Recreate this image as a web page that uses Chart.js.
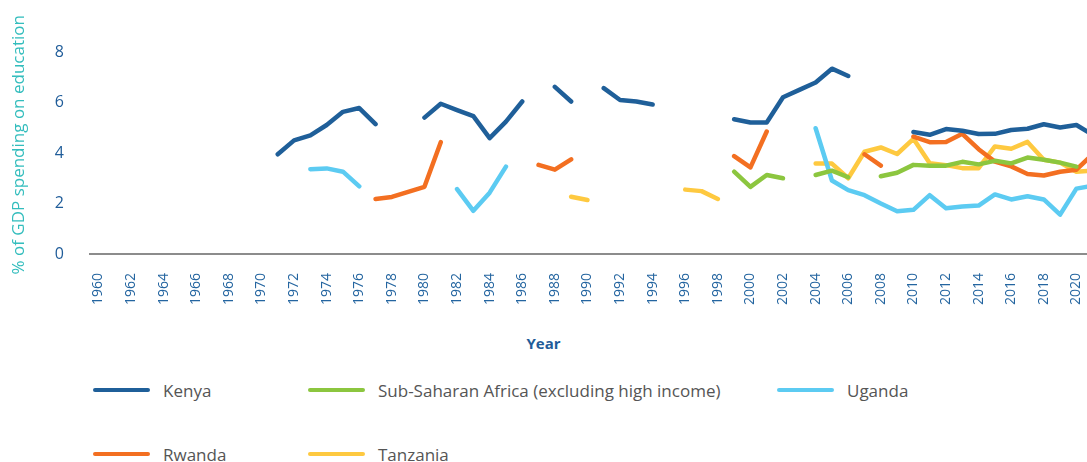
<!DOCTYPE html>
<html>
<head>
<meta charset="utf-8">
<script src="https://cdn.jsdelivr.net/npm/chart.js@4"></script>
<style>
  body { margin: 0; background: #fff; overflow: hidden; font-family: "Open Sans", sans-serif; }
  #wrap { position: relative; width: 1087px; height: 462px; }
  #chartBox { position: absolute; left: 0; top: 0; width: 1087px; height: 320px; }
  #xTitle { position: absolute; left: 0; width: 1087px; top: 333px; text-align: center;
            font-weight: 700; font-size: 15px; color: #1f5c99; }
  #legend { position: absolute; left: 93px; top: 378px; display: grid;
            grid-template-columns: 215px 469px auto; row-gap: 40px; }
  .item { display: flex; align-items: center; height: 24px; font-size: 17px; color: #555; }
  .swatch { width: 57px; height: 4px; border-radius: 2px; margin-right: 13px; }
</style>
</head>
<body>
<div id="wrap">
  <div id="chartBox"><canvas id="eduChart"></canvas></div>
  <div id="xTitle">Year</div>
  <div id="legend"></div>
</div>
<script>
  /************************************************
   *  DATA
   ************************************************/
  const years = [1960, 1961, 1962, 1963, 1964, 1965, 1966, 1967, 1968, 1969,
    1970, 1971, 1972, 1973, 1974, 1975, 1976, 1977, 1978, 1979,
    1980, 1981, 1982, 1983, 1984, 1985, 1986, 1987, 1988, 1989,
    1990, 1991, 1992, 1993, 1994, 1995, 1996, 1997, 1998, 1999,
    2000, 2001, 2002, 2003, 2004, 2005, 2006, 2007, 2008, 2009,
    2010, 2011, 2012, 2013, 2014, 2015, 2016, 2017, 2018, 2019,
    2020, 2021];

  const yearTicks = [1960, 1962, 1964, 1966, 1968, 1970, 1972, 1974, 1976, 1978,
    1980, 1982, 1984, 1986, 1988, 1990, 1992, 1994, 1996, 1998,
    2000, 2002, 2004, 2006, 2008, 2010, 2012, 2014, 2016, 2018, 2020];

  const valueTicks = [0, 2, 4, 6, 8];

  // one value per year, null where there is no data
  const kenya = [null, null, null, null, null, null, null, null, null, null,
    null, 3.95, 4.50, 4.70, 5.11, 5.63, 5.78, 5.14, null, null,
    5.40, 5.95, 5.70, 5.46, 4.59, 5.24, 6.04, null, 6.62, 6.04,
    null, 6.57, 6.10, 6.04, 5.92, null, null, null, null, 5.34,
    5.21, 5.21, 6.21, 6.50, 6.79, 7.34, 7.05, null, null, null,
    4.83, 4.72, 4.95, 4.88, 4.75, 4.76, 4.91, 4.96, 5.14, 5.01,
    5.11, 4.72];

  const subSaharan = [null, null, null, null, null, null, null, null, null, null,
    null, null, null, null, null, null, null, null, null, null,
    null, null, null, null, null, null, null, null, null, null,
    null, null, null, null, null, null, null, null, null, 3.26,
    2.66, 3.13, 3.00, null, 3.13, 3.30, 3.04, null, 3.08, 3.22,
    3.53, 3.50, 3.50, 3.65, 3.55, 3.69, 3.59, 3.82, 3.73, 3.62,
    3.46, null];

  const uganda = [null, null, null, null, null, null, null, null, null, null,
    null, null, null, 3.36, 3.39, 3.26, 2.68, null, null, null,
    null, null, 2.57, 1.71, 2.43, 3.46, null, null, null, null,
    null, null, null, null, null, null, null, null, null, null,
    null, null, null, null, 4.98, 2.91, 2.53, 2.33, 2.00, 1.69,
    1.75, 2.33, 1.81, 1.88, 1.92, 2.36, 2.16, 2.29, 2.16, 1.56,
    2.59, 2.70];

  const rwanda = [null, null, null, null, null, null, null, null, null, null,
    null, null, null, null, null, null, null, 2.18, 2.26, 2.46,
    2.66, 4.43, null, null, null, null, null, 3.53, 3.34, 3.75,
    null, null, null, null, null, null, null, null, null, 3.88,
    3.43, 4.85, null, null, null, null, null, 3.95, 3.50, null,
    4.65, 4.43, 4.44, 4.76, 4.15, 3.66, 3.47, 3.17, 3.11, 3.26,
    3.34, 3.95];

  const tanzania = [null, null, null, null, null, null, null, null, null, null,
    null, null, null, null, null, null, null, null, null, null,
    null, null, null, null, null, null, null, null, null, 2.27,
    2.14, null, null, null, null, null, 2.55, 2.49, 2.18, null,
    null, null, null, null, 3.58, 3.58, 3.00, 4.05, 4.22, 3.96,
    4.56, 3.59, 3.52, 3.40, 3.40, 4.26, 4.17, 4.44, 3.73, 3.62,
    3.26, 3.30];

  const seriesNames = ["Kenya", "Sub-Saharan Africa (excluding high income)", "Uganda", "Rwanda", "Tanzania"];
  const seriesValues = [kenya, subSaharan, uganda, rwanda, tanzania];
  const seriesColors = ["#1f5f99", "#8cc63f", "#5ccbf2", "#f36f21", "#fec940"];

  /************************************************
   *  BUILD CHART
   ************************************************/
  const tickBlue = "#1f5c99";

  const datasets = seriesNames.map((name, k) => ({
    label: name,
    data: years.map((yr, i) => ({ x: yr, y: seriesValues[k][i] })),
    borderColor: seriesColors[k],
    backgroundColor: seriesColors[k],
    borderWidth: 4.5,
    borderCapStyle: "round",
    borderJoinStyle: "round",
    pointRadius: 0,
    pointHoverRadius: 0,
    spanGaps: false,
    tension: 0,
  }));

  const ctx = document.getElementById("eduChart").getContext("2d");
  const eduChart = new Chart(ctx, {
    type: "line",
    data: { datasets: datasets },
    options: {
      responsive: true,
      maintainAspectRatio: false,
      animation: false,
      layout: { padding: { top: 30, left: 0, right: 0, bottom: 0 } },
      plugins: { legend: { display: false }, tooltip: { enabled: false } },
      scales: {
        x: {
          type: "linear",
          min: 1959.48,
          max: 2020.65,
          grid: { display: false, drawTicks: false },
          border: { display: true, color: "#8c8c8c", width: 2 },
          afterBuildTicks: (scale) => { scale.ticks = yearTicks.map((v) => ({ value: v })); },
          afterFit: (scale) => {
            // fixed axis height, and no extra room for the end labels
            scale.height = 66;
            scale.paddingLeft = 0;
            scale.paddingRight = 0;
          },
          ticks: {
            autoSkip: false,
            minRotation: 90,
            maxRotation: 90,
            padding: 19,
            color: "#2465a0",
            font: { family: "Open Sans", size: 14 },
            callback: (v) => String(v),
          },
        },
        y: {
          min: 0,
          max: 8.65,
          grid: { display: false, drawTicks: false },
          border: { display: false },
          afterBuildTicks: (scale) => { scale.ticks = valueTicks.map((v) => ({ value: v })); },
          afterFit: (scale) => { scale.width = 90; },
          ticks: {
            padding: 26,
            color: tickBlue,
            font: { family: "Open Sans", size: 16 },
          },
          title: {
            display: true,
            text: "% of GDP spending on education",
            color: "#33bdbd",
            font: { family: "Open Sans", size: 17 },
            padding: { top: 9, bottom: 0 },
          },
        },
      },
    },
  });

  /************************************************
   *  HTML LEGEND
   ************************************************/
  const legendBox = document.getElementById("legend");
  eduChart.data.datasets.forEach((ds) => {
    const item = document.createElement("div");
    item.className = "item";
    item.innerHTML = `<span class="swatch" style="background:${ds.borderColor}"></span><span>${ds.label}</span>`;
    legendBox.appendChild(item);
  });
</script>
</body>
</html>
